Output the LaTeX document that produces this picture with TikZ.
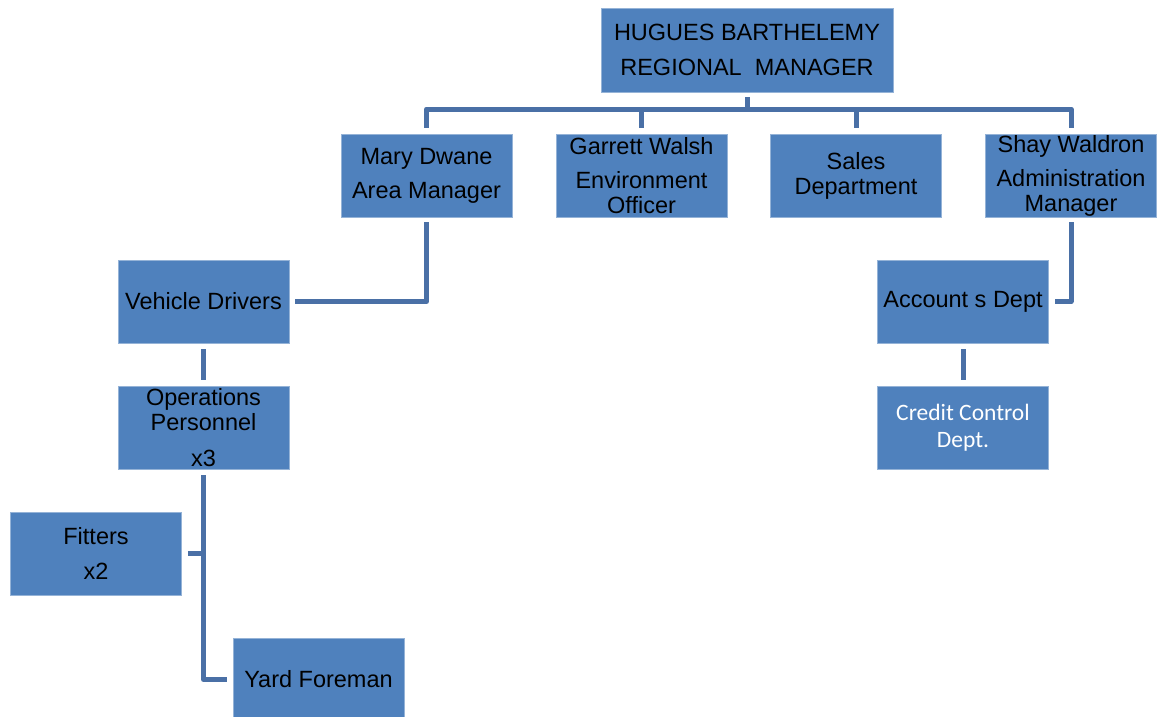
\documentclass[tikz,border=0pt]{standalone}
\usepackage{fontspec}
\setmainfont{Liberation Sans}
\newfontfamily\calib{Carlito}
\usepackage{xcolor}
\definecolor{boxblue}{RGB}{79,129,189}
\definecolor{linkblue}{RGB}{74,112,166}

\begin{document}
\begin{tikzpicture}[x=1pt, y=-1pt,
    post/.style={draw=boxblue!60!white, line width=0.8pt, fill=boxblue, align=center,
        minimum width=171pt, minimum height=83pt, inner sep=0pt,
        font=\fontsize{23.5}{25}\selectfont},
    link/.style={linkblue, line width=5pt, line join=round}]
    \useasboundingbox (0,0) rectangle (1160,717);

    % Manager
    \node[post, minimum width=292pt, minimum height=84pt] (top) at (747,50) {HUGUES BARTHELEMY\\[10pt]REGIONAL\ \ MANAGER};

    % Second row
    \node[post] (mary) at (426.5,175.5) {Mary Dwane\\[9pt]Area Manager};
    \node[post] (garrett) at (641.5,175.5) {Garrett Walsh\\[9pt]Environment\\Officer};
    \node[post] (sales) at (856,175.5) {Sales\\Department};
    \node[post] (shay) at (1071,175.5) {Shay Waldron\\[9pt]Administration\\Manager};

    % Under Mary Dwane
    \node[post] (drivers) at (203.5,301.5) {Vehicle Drivers};
    \node[post] (ops) at (203.5,427.5) {Operations\\Personnel\\[11pt]x3};
    \node[post] (fitters) at (96,553.5) {Fitters\\[10pt]x2};
    \node[post] (yard) at (318.5,679.5) {Yard Foreman};

    % Under Shay Waldron
    \node[post] (accounts) at (963,301.5) {Account s Dept};
    \node[post, text=white, font=\calib\fontsize{23.5}{27}\selectfont] (credit) at (963,427.5) {Credit Control\\Dept.};

    % Bus
    \coordinate (bus) at (747,109);
    \draw[link] ([yshift=-5pt]top.south) -- (bus);
    \draw[link] ([yshift=6pt]mary.north) |- (bus) -| ([yshift=6pt]shay.north);
    \draw[link] ([yshift=6pt]garrett.north) -- (garrett.north |- bus);
    \draw[link] ([yshift=6pt]sales.north) -- (sales.north |- bus);

    % Left branch
    \draw[link] ([yshift=-5pt]mary.south) |- ([xshift=6pt]drivers.east);
    \draw[link] ([yshift=-6pt]drivers.south) -- ([yshift=6pt]ops.north);
    \draw[link] ([yshift=-6pt]ops.south) |- ([xshift=-6pt]yard.west);
    \draw[link] ([xshift=6pt]fitters.east) -- (ops.south |- fitters.east);

    % Right branch
    \draw[link] ([yshift=-5pt]shay.south) |- ([xshift=6pt]accounts.east);
    \draw[link] ([yshift=-6pt]accounts.south) -- ([yshift=6pt]credit.north);
\end{tikzpicture}
\end{document}
